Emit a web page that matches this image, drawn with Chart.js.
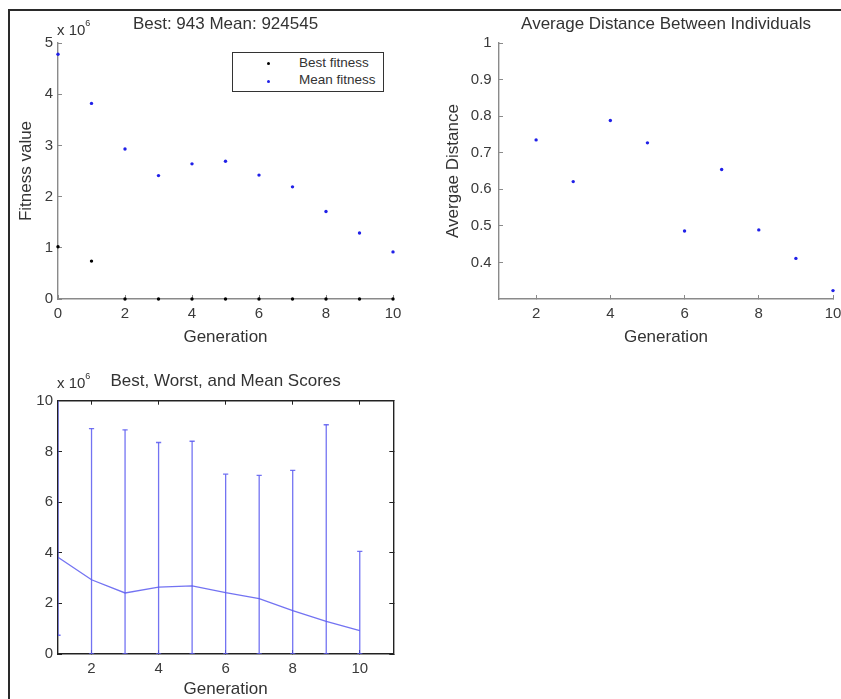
<!DOCTYPE html>
<html>
<head>
<meta charset="utf-8">
<title>GA plots</title>
<script src="https://cdn.jsdelivr.net/npm/chart.js@4.4.1/dist/chart.umd.min.js"></script>
<style>
  html, body { margin: 0; padding: 0; background: #fff; }
  body { width: 841px; height: 699px; overflow: hidden; position: relative; font-family: 'Liberation Sans', Arial, sans-serif; color: #333; }
  .marco { position: absolute; left: 8px; top: 9px; width: 900px; height: 800px; border-left: 2px solid #2a2a2a; border-top: 2px solid #2a2a2a; }
  canvas { position: absolute; }
  .exp { position: absolute; font-size: 15px; color: #333; white-space: nowrap; }
  .exp sup { font-size: 9px; position: relative; top: -3px; }
  .leyenda { position: absolute; left: 232px; top: 52px; width: 150px; height: 38px; border: 1.5px solid #333; background: #fff; font-size: 13.5px; }
  .leyenda div { position: absolute; left: 66px; }
  .leyenda span { position: absolute; width: 3px; height: 3px; border-radius: 50%; }
</style>
</head>
<body>
<div class="marco"></div>
<canvas id="fitness" width="420" height="350" style="left:0;top:0"></canvas>
<canvas id="distancia" width="480" height="350" style="left:420px;top:0"></canvas>
<canvas id="scores" width="420" height="355" style="left:0;top:350px"></canvas>

<div class="exp" style="left:57px;top:21px">x 10<sup>6</sup></div>
<div class="exp" style="left:57px;top:374px">x 10<sup>6</sup></div>

<div class="leyenda">
  <span style="left:34px;top:9px;background:#000"></span>
  <div style="top:2px">Best fitness</div>
  <span style="left:34px;top:27px;background:#2020e8"></span>
  <div style="top:19px">Mean fitness</div>
</div>

<script>
// valores de fitness en unidades de 10^6
var generaciones = [0, 1, 2, 3, 4, 5, 6, 7, 8, 9, 10];
var bestFitness = [1.02, 0.74, 0, 0, 0, 0, 0, 0, 0, 0, 0];
var meanFitness = [4.78, 3.82, 2.93, 2.41, 2.64, 2.69, 2.42, 2.19, 1.71, 1.29, 0.92];

var generacionesDist = [2, 3, 4, 5, 6, 7, 8, 9, 10];
var distancia = [0.735, 0.621, 0.788, 0.727, 0.486, 0.654, 0.489, 0.411, 0.323];

var generacionesScore = [1, 2, 3, 4, 5, 6, 7, 8, 9, 10];
var peorScore = [10.6, 8.9, 8.85, 8.35, 8.4, 7.1, 7.05, 7.25, 9.05, 4.05];
var mejorScore = bestFitness.slice(1);
var mediaScore = meanFitness.slice(1);

var ticksX1 = [0, 2, 4, 6, 8, 10];
var ticksY1 = [0, 1, 2, 3, 4, 5];
var ticksX2 = [2, 4, 6, 8, 10];
var ticksY2 = [0.4, 0.5, 0.6, 0.7, 0.8, 0.9, 1];
var ticksX3 = [2, 4, 6, 8, 10];
var ticksY3 = [0, 2, 4, 6, 8, 10];

var fuente = "'Liberation Sans', Arial, sans-serif";
var colorTexto = '#333';
var azul = '#2020e8';
var azulBarra = 'rgba(90, 90, 240, 0.85)';

Chart.defaults.font.family = fuente;
Chart.defaults.color = colorTexto;

function puntos(xs, ys) {
  return xs.map(function(x, i) { return { x: x, y: ys[i] }; });
}

function fijarTicks(valores) {
  return function(scale) {
    scale.ticks = valores.map(function(v) { return { value: v }; });
  };
}

function etiqueta(v) {
  return String(Math.round(v * 10) / 10);
}

// eje con ticks hacia dentro, estilo matlab
function eje(pos, min, max, valores, tam, colorEje, titulo, opc) {
  opc = opc || {};
  var vertical = pos === 'left' || pos === 'right';
  return {
    type: 'linear',
    position: pos,
    min: min,
    max: max,
    afterBuildTicks: fijarTicks(valores),
    afterFit: function(scale) {
      if (vertical) scale.width = tam; else scale.height = tam;
    },
    ticks: {
      display: opc.sinEtiquetas ? false : true,
      padding: opc.padding || 9,
      color: '#3a3a3a',
      font: { size: 15 },
      callback: etiqueta
    },
    grid: { drawOnChartArea: false, drawTicks: true, tickLength: -4, tickColor: colorEje, tickWidth: 1 },
    border: { display: true, color: colorEje, width: 1.4 },
    title: titulo ? {
      display: true,
      text: titulo.texto,
      color: colorTexto,
      font: { size: 17 },
      padding: titulo.padding
    } : { display: false }
  };
}

function titulo(texto, arriba, abajo) {
  return {
    display: true,
    text: texto,
    fullSize: false,
    color: colorTexto,
    font: { size: 17, weight: 'normal' },
    padding: { top: arriba, bottom: abajo }
  };
}

var comunes = {
  responsive: false,
  animation: false,
  events: []
};

new Chart(document.getElementById('fitness'), {
  type: 'scatter',
  data: {
    datasets: [{
      label: 'Best fitness',
      data: puntos(generaciones, bestFitness),
      backgroundColor: '#000',
      borderColor: '#000',
      pointRadius: 1.7,
      pointBorderWidth: 0,
      clip: false
    }, {
      label: 'Mean fitness',
      data: puntos(generaciones, meanFitness),
      backgroundColor: azul,
      borderColor: azul,
      pointRadius: 1.7,
      pointBorderWidth: 0,
      clip: false
    }]
  },
  options: Object.assign({}, comunes, {
    layout: { padding: { left: 0, top: 0, right: 27, bottom: 0 } },
    plugins: {
      legend: { display: false },
      tooltip: { enabled: false },
      title: titulo('Best: 943 Mean: 924545', 14, 8.6)
    },
    scales: {
      x: eje('bottom', 0, 10, ticksX1, 51, '#8a8a8a', { texto: 'Generation', padding: { top: 0, bottom: 2 } }, { padding: 9.5 }),
      y: eje('left', 0, 5, ticksY1, 58, '#8a8a8a', { texto: 'Fitness value', padding: { top: 16, bottom: 0 } }, { padding: 9 })
    }
  })
});

new Chart(document.getElementById('distancia'), {
  type: 'scatter',
  data: {
    datasets: [{
      label: 'Average Distance',
      data: puntos(generacionesDist, distancia),
      backgroundColor: azul,
      borderColor: azul,
      pointRadius: 1.7,
      pointBorderWidth: 0,
      clip: false
    }]
  },
  options: Object.assign({}, comunes, {
    layout: { padding: { left: 0, top: 0, right: 67, bottom: 0 } },
    plugins: {
      legend: { display: false },
      tooltip: { enabled: false },
      title: titulo('Average Distance Between Individuals', 14, 8.6)
    },
    scales: {
      x: eje('bottom', 1, 10, ticksX2, 51, '#8a8a8a', { texto: 'Generation', padding: { top: 0, bottom: 2 } }, { padding: 9.5 }),
      y: eje('left', 0.3, 1, ticksY2, 79, '#8a8a8a', { texto: 'Avergae Distance', padding: { top: 23, bottom: 0 } }, { padding: 11.3 })
    }
  })
});

// barras de rango: mejor -> peor, separadas con null
var barras = [];
generacionesScore.forEach(function(g, i) {
  barras.push({ x: g, y: mejorScore[i] });
  barras.push({ x: g, y: peorScore[i] });
  barras.push({ x: g, y: null });
});

new Chart(document.getElementById('scores'), {
  type: 'scatter',
  data: {
    datasets: [{
      label: 'Range',
      data: barras,
      showLine: true,
      spanGaps: false,
      borderColor: azulBarra,
      borderWidth: 1.3,
      pointStyle: 'line',
      pointRadius: 2.6,
      pointBorderColor: azulBarra,
      pointBorderWidth: 1.3
    }, {
      label: 'Mean',
      data: puntos(generacionesScore, mediaScore),
      showLine: true,
      borderColor: azulBarra,
      borderWidth: 1.3,
      pointRadius: 0
    }]
  },
  options: Object.assign({}, comunes, {
    layout: { padding: { left: 0, top: 0, right: 26.7, bottom: 0 } },
    plugins: {
      legend: { display: false },
      tooltip: { enabled: false },
      title: titulo('Best, Worst, and Mean Scores', 20.8, 9.5)
    },
    scales: {
      x: eje('bottom', 1, 11, ticksX3, 51, '#222', { texto: 'Generation', padding: { top: 0, bottom: 5 } }, { padding: 9.5 }),
      y: eje('left', 0, 10, ticksY3, 58, '#222', null, { padding: 9 }),
      x2: eje('top', 1, 11, ticksX3, 0, '#222', null, { sinEtiquetas: true }),
      y2: eje('right', 0, 10, ticksY3, 0, '#222', null, { sinEtiquetas: true })
    }
  })
});
</script>
</body>
</html>
